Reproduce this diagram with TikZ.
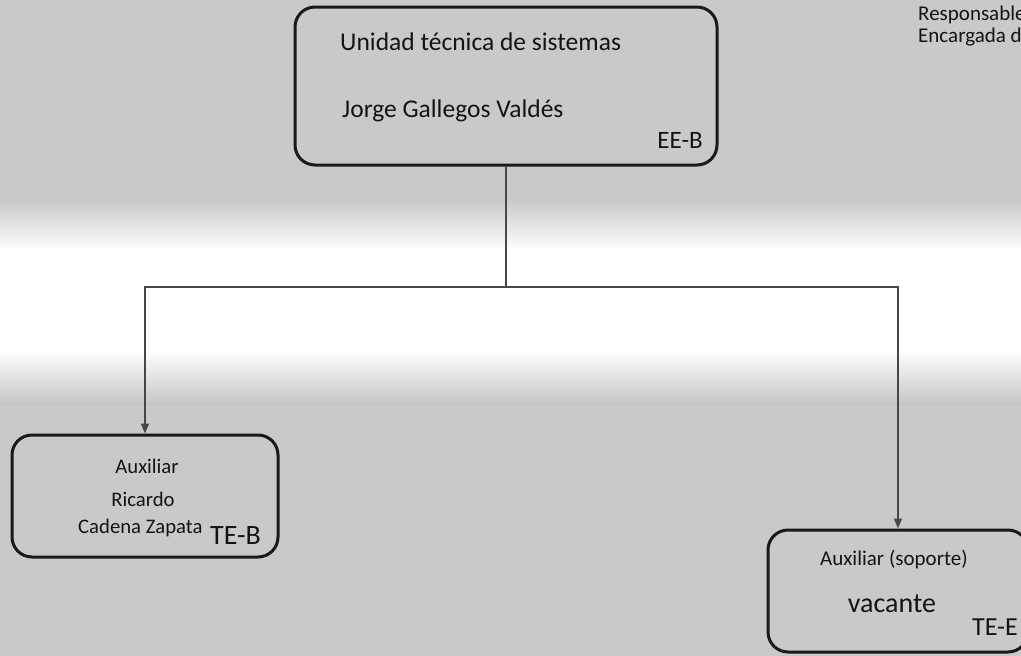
\documentclass[tikz,border=0pt]{standalone}
\usepackage{fontspec}
\setmainfont{Carlito}
\usepackage{tikz}
\usetikzlibrary{arrows.meta}

\begin{document}
\begin{tikzpicture}[x=1pt,y=-1pt,>={Triangle[length=10pt,width=8pt]},
				unit/.style={draw=black!90,line width=3pt,rounded corners=20pt,inner sep=0pt},
				txt/.style={inner sep=0pt,text=black!92,font=\fontsize{#1}{#1}\selectfont},
				link/.style={draw=black!72,line width=1.6pt}]
				
				% fondo escaneado
				\fill[black!21] (0,0) rectangle (1021,656);
				\shade[top color=black!21,bottom color=white] (0,200) rectangle (1021,250);
				\fill[white] (0,249) rectangle (1021,351);
				\shade[top color=white,bottom color=black!23] (0,350) rectangle (1021,405);
				\useasboundingbox (0,0) rectangle (1021,656);
				
				\node[unit,minimum width=422pt,minimum height=158pt] (jefe) at (506,86) {};
				\node[unit,minimum width=266pt,minimum height=122pt] (aux) at (145,496) {};
				\node[unit,minimum width=260pt,minimum height=122pt] (soporte) at (898,591) {};
				\coordinate (rama) at (506,287);
				
				\node[txt=25.5,anchor=base west] (jefe puesto) at (340,50) {Unidad técnica de sistemas};
				\node[txt=25.5,anchor=base west] (jefe nombre) at (342,117) {Jorge Gallegos Valdés};
				\node[txt=25,anchor=base east] (jefe clave) at (703,148) {EE-B};
				
				\node[txt=20.7,anchor=base] (aux puesto) at (147,473) {Auxiliar};
				\node[txt=20.7,anchor=base] (aux nombre) at (143,506) {Ricardo};
				\node[txt=20.7,anchor=base west] (aux apellido) at (78,533) {Cadena Zapata};
				\node[txt=28,anchor=base west] (aux clave) at (210,544) {TE-B};
				
				\node[txt=21,anchor=base] (soporte puesto) at (894,565) {Auxiliar (soporte)};
				\node[txt=28,anchor=base] (soporte nombre) at (892,612) {vacante};
				\node[txt=26,anchor=base west] (soporte clave) at (972,635) {TE-E};
				
				\node[txt=21,anchor=base west] (resp) at (918,20) {Responsable};
				\node[txt=21,anchor=base west] (enc) at (918,42) {Encargada de};
				
				\draw[link] (jefe) -- (rama);
				\draw[link,->] (rama) -| (aux);
				\draw[link,->] (rama) -| (soporte);
				
\end{tikzpicture}
\end{document}
